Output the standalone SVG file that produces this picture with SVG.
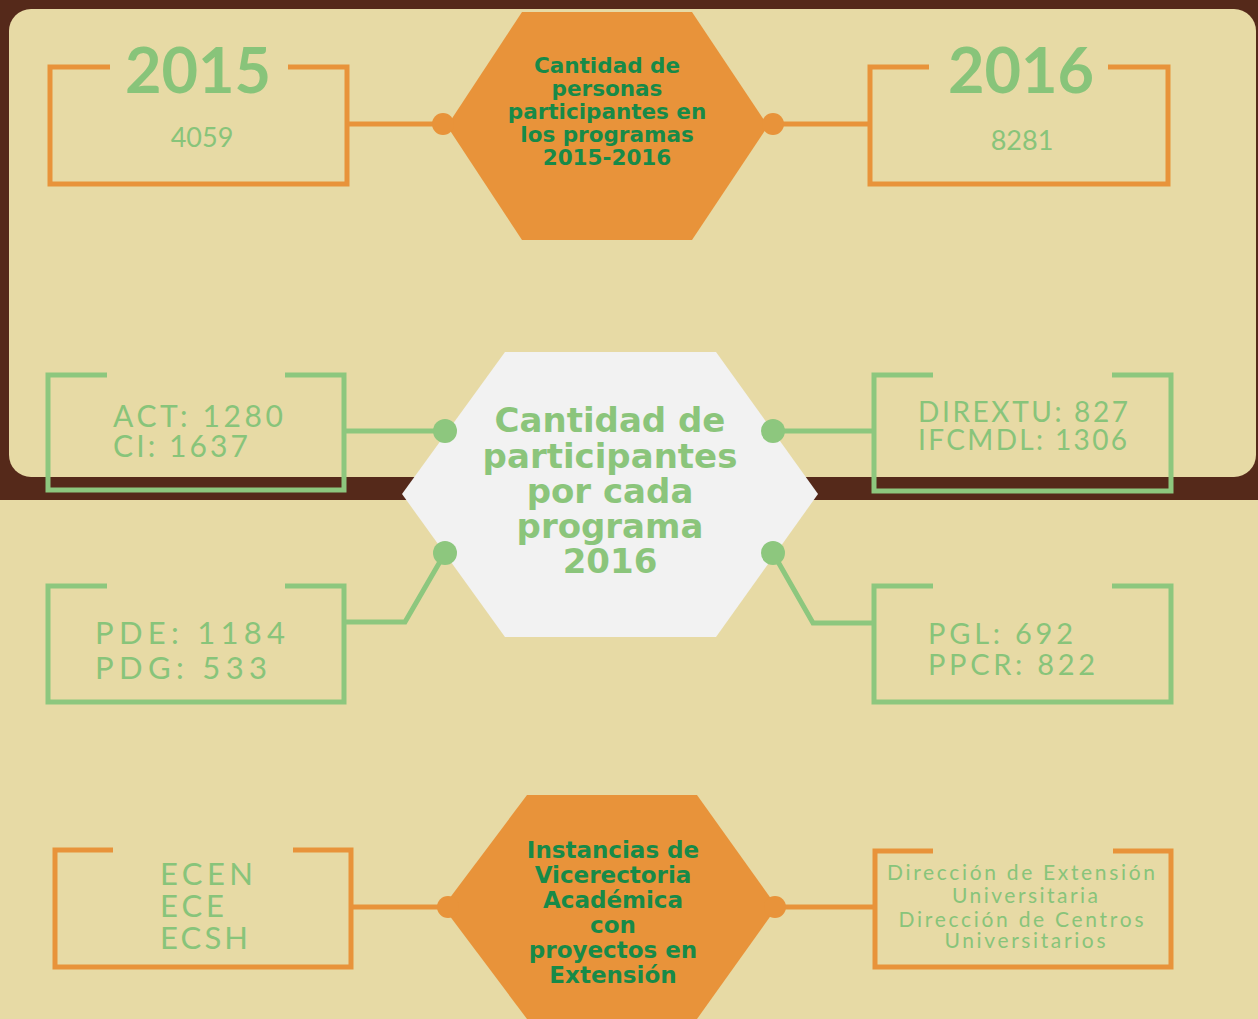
<svg xmlns="http://www.w3.org/2000/svg" width="1258" height="1019" viewBox="0 0 1258 1019">
<style>
.ob{fill:none;stroke:#E8933A;stroke-width:5}
.gb{fill:none;stroke:#8DC77E;stroke-width:5}
.oc{stroke:#E8933A;stroke-width:5;fill:none}
.gc{stroke:#8DC77E;stroke-width:5;fill:none}
.od{fill:#E8933A}
.gd{fill:#8DC77E}
.bt{font-family:Lato,"Liberation Sans",sans-serif;fill:#88C47A}
.yr{font-family:Lato,"Liberation Sans",sans-serif;font-weight:700;font-size:63px;fill:#88C47A;text-anchor:middle}
.ht{font-family:"DejaVu Sans","Open Sans",sans-serif;font-weight:700;text-anchor:middle}
.dk{fill:#178A48}
.lg{fill:#8BC57B}
</style>
<rect x="0" y="0" width="1258" height="1019" fill="#E7DAA5"/>
<rect x="0" y="0" width="1258" height="500" fill="#55291A"/>
<rect x="9" y="9" width="1247" height="468" rx="22" fill="#E7DAA5"/>

<g id="connectors">
<line class="oc" x1="348" y1="124" x2="443" y2="124"/>
<line class="oc" x1="773" y1="124" x2="870" y2="124"/>
<line class="gc" x1="345" y1="431" x2="445" y2="431"/>
<line class="gc" x1="773" y1="431" x2="874" y2="431"/>
<polyline class="gc" points="345,622 405,622 445,553"/>
<polyline class="gc" points="773,553 813,623 874,623"/>
<line class="oc" x1="352" y1="907" x2="448" y2="907"/>
<line class="oc" x1="775" y1="907" x2="875" y2="907"/>
</g>

<g id="hex-top">
<polygon points="522,12 692,12 768,126 692,240 522,240 447,126" fill="#E8933A"/>
<circle class="od" cx="443" cy="124" r="11"/>
<circle class="od" cx="773" cy="124" r="11"/>
<text class="ht dk" font-size="21.5"><tspan x="607" y="73">Cantidad de</tspan><tspan x="607" y="96">personas</tspan><tspan x="607" y="119">participantes en</tspan><tspan x="607" y="142">los programas</tspan><tspan x="607" y="165">2015-2016</tspan></text>
</g>

<g id="box-2015">
<polyline class="ob" points="110,67 50,67 50,184 347,184 347,67 288,67"/>
<text class="yr" x="198" y="93">2015</text>
<text class="bt" x="202" y="147" font-size="27" text-anchor="middle">4059</text>
</g>

<g id="box-2016">
<polyline class="ob" points="929,67 870,67 870,184 1168,184 1168,67 1108,67"/>
<text class="yr" x="1021" y="93">2016</text>
<text class="bt" x="1022" y="150" font-size="27" text-anchor="middle">8281</text>
</g>

<g id="hex-mid">
<polygon points="505,352 716,352 818,494 716,637 505,637 402,494" fill="#F2F2F2"/>
<circle class="gd" cx="445" cy="431" r="12"/>
<circle class="gd" cx="773" cy="431" r="12"/>
<circle class="gd" cx="445" cy="553" r="12"/>
<circle class="gd" cx="773" cy="553" r="12"/>
<text class="ht lg" font-size="34"><tspan x="610" y="432">Cantidad de</tspan><tspan x="610" y="468">participantes</tspan><tspan x="610" y="503">por cada</tspan><tspan x="610" y="538">programa</tspan><tspan x="610" y="573">2016</tspan></text>
</g>

<g id="box-act">
<polyline class="gb" points="107,375 48,375 48,490 344,490 344,375 285,375"/>
<text class="bt" font-size="30" x="113" y="427" textLength="170" lengthAdjust="spacing">ACT: 1280</text>
<text class="bt" font-size="30" x="113" y="457" textLength="135" lengthAdjust="spacing">CI: 1637</text>
</g>

<g id="box-pde">
<polyline class="gb" points="107,586 48,586 48,702 344,702 344,586 285,586"/>
<text class="bt" font-size="31" x="95" y="644" textLength="190" lengthAdjust="spacing">PDE: 1184</text>
<text class="bt" font-size="31" x="95" y="679" textLength="172" lengthAdjust="spacing">PDG: 533</text>
</g>

<g id="box-dirextu">
<polyline class="gb" points="933,375 874,375 874,491 1171,491 1171,375 1112,375"/>
<text class="bt" font-size="28" x="918" y="422" textLength="210" lengthAdjust="spacing">DIREXTU: 827</text>
<text class="bt" font-size="28" x="918" y="450" textLength="209" lengthAdjust="spacing">IFCMDL: 1306</text>
</g>

<g id="box-pgl">
<polyline class="gb" points="933,586 874,586 874,702 1171,702 1171,586 1112,586"/>
<text class="bt" font-size="29" x="928" y="644" textLength="145" lengthAdjust="spacing">PGL: 692</text>
<text class="bt" font-size="29" x="928" y="675" textLength="167" lengthAdjust="spacing">PPCR: 822</text>
</g>

<g id="hex-bottom">
<polygon points="527,795 697,795 777,907 697,1019 527,1019 443,907" fill="#E8933A"/>
<circle class="od" cx="448" cy="907" r="11"/>
<circle class="od" cx="775" cy="907" r="11"/>
<text class="ht dk" font-size="23"><tspan x="613" y="858">Instancias de</tspan><tspan x="613" y="883">Vicerectoria</tspan><tspan x="613" y="908">Académica</tspan><tspan x="613" y="933">con</tspan><tspan x="613" y="958">proyectos en</tspan><tspan x="613" y="983">Extensión</tspan></text>
</g>

<g id="box-ecen">
<polyline class="ob" points="113,850 55,850 55,967 351,967 351,850 293,850"/>
<text class="bt" font-size="31" x="160" y="885" textLength="93" lengthAdjust="spacing">ECEN</text>
<text class="bt" font-size="31" x="160" y="917" textLength="64" lengthAdjust="spacing">ECE</text>
<text class="bt" font-size="31" x="160" y="949" textLength="88" lengthAdjust="spacing">ECSH</text>
</g>

<g id="box-direccion">
<polyline class="ob" points="933,851 875,851 875,967 1171,967 1171,851 1113,851"/>
<text class="bt" font-size="21" x="1021" y="880" text-anchor="middle" textLength="268" lengthAdjust="spacing">Dirección de Extensión</text>
<text class="bt" font-size="21" x="1025" y="903" text-anchor="middle" textLength="146" lengthAdjust="spacing">Universitaria</text>
<text class="bt" font-size="21" x="1021" y="927" text-anchor="middle" textLength="245" lengthAdjust="spacing">Dirección de Centros</text>
<text class="bt" font-size="21" x="1025" y="948" text-anchor="middle" textLength="161" lengthAdjust="spacing">Universitarios</text>
</g>
</svg>
